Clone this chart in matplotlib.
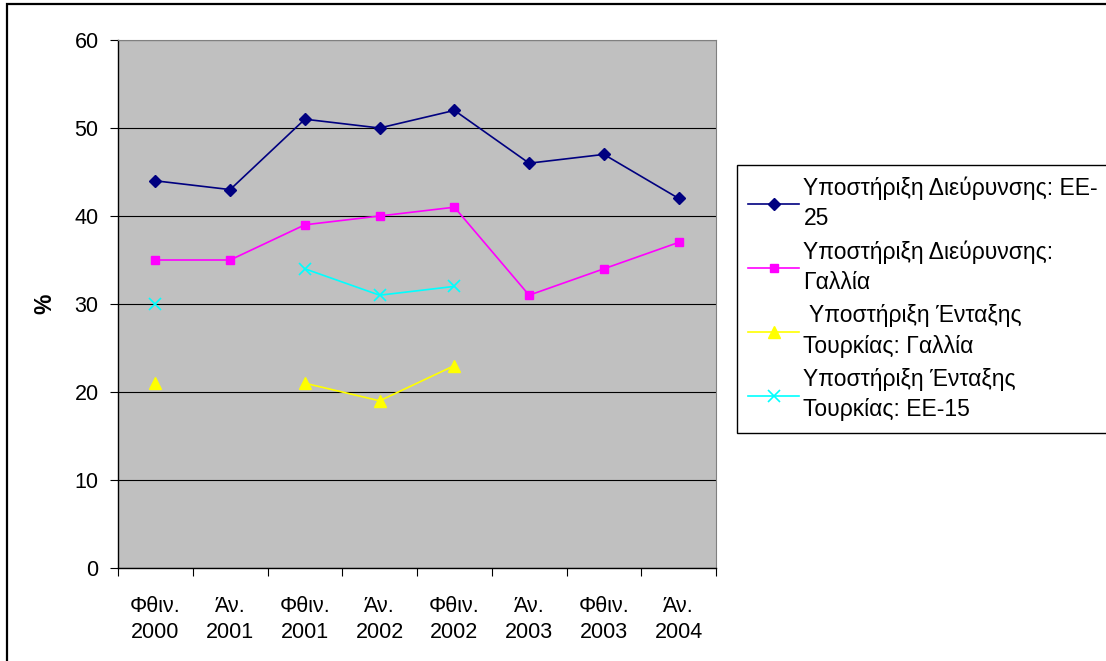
import numpy as np
import matplotlib
matplotlib.use("Agg")
import matplotlib.pyplot as plt
from matplotlib.patches import Rectangle

plt.rcParams['font.family'] = ['Liberation Sans', 'DejaVu Sans']

# data
categories = ["Φθιν.\n2000", "Άν.\n2001", "Φθιν.\n2001", "Άν.\n2002",
              "Φθιν.\n2002", "Άν.\n2003", "Φθιν.\n2003", "Άν.\n2004"]
eu25_enlargement = [44, 43, 51, 50, 52, 46, 47, 42]
france_enlargement = [35, 35, 39, 40, 41, 31, 34, 37]
france_turkey = [21, np.nan, 21, 19, 23, np.nan, np.nan, np.nan]
eu15_turkey = [30, np.nan, 34, 31, 32, np.nan, np.nan, np.nan]

labels = ["Υποστήριξη Διεύρυνσης: ΕΕ-\n25",
          "Υποστήριξη Διεύρυνσης:\nΓαλλία",
          " Υποστήριξη Ένταξης\nΤουρκίας: Γαλλία",
          "Υποστήριξη Ένταξης\nΤουρκίας: ΕΕ-15"]

FS = 15.5
LEG_FS = 16.5
W, H = 1106, 661
fig = plt.figure(figsize=(W / 100, H / 100), dpi=100)
ax = fig.add_axes([118 / W, 1 - 568 / H, (716 - 118) / W, (568 - 40) / H])
ax.set_facecolor("#C0C0C0")

x = np.arange(len(categories))
ax.plot(x, eu25_enlargement, color="#000080", marker="D", markersize=6,
        lw=1.2, label=labels[0], zorder=3)
ax.plot(x, france_enlargement, color="#FF00FF", marker="s", markersize=6,
        lw=1.2, label=labels[1], zorder=3)
ax.plot(x, france_turkey, color="#FFFF00", marker="^", markersize=8,
        lw=1.2, label=labels[2], zorder=3)
ax.plot(x, eu15_turkey, color="#00FFFF", marker="x", markersize=8,
        mew=1.2, lw=1.2, label=labels[3], zorder=3)

ax.set_ylim(0, 60)
ax.set_yticks(range(0, 61, 10))
ax.yaxis.grid(True, color="black", lw=0.8)
ax.set_axisbelow(True)
ax.tick_params(axis="y", direction="out", length=6, labelsize=FS, pad=8)

ax.set_xlim(-0.5, len(categories) - 0.5)
ax.set_xticks(np.arange(-0.5, len(categories), 1.0))
ax.set_xticklabels([])
ax.set_xticks(x, minor=True)
ax.set_xticklabels(categories, minor=True, fontsize=FS, linespacing=1.3)
ax.tick_params(axis="x", which="major", direction="out", length=6)
ax.tick_params(axis="x", which="minor", length=0, pad=20)

ax.set_ylabel("%", fontsize=FS + 1, fontweight="bold")
ax.yaxis.set_label_coords((56 - 118) / 598, 0.5)

for side in ["top", "right"]:
    ax.spines[side].set_color("#808080")
for side in ["left", "bottom"]:
    ax.spines[side].set_color("black")
    ax.spines[side].set_linewidth(1.0)

leg = ax.legend(loc="upper left", bbox_to_anchor=(737 / W, 1 - 165 / H),
                bbox_transform=fig.transFigure, fontsize=LEG_FS, frameon=True,
                fancybox=False, edgecolor="black", framealpha=1,
                handlelength=2.2, handletextpad=0.2, borderpad=0.5,
                labelspacing=0.45, borderaxespad=0)
leg.get_frame().set_linewidth(1.0)
for t in leg.get_texts():
    t.set_linespacing(1.4)

# outer chart frame
fig.add_artist(Rectangle((7 / W, -0.1), 1.2, 1 - 4 / H + 0.1,
                         transform=fig.transFigure, fill=False,
                         lw=1.6, edgecolor="black"))

fig.savefig("out.png", dpi=100)
